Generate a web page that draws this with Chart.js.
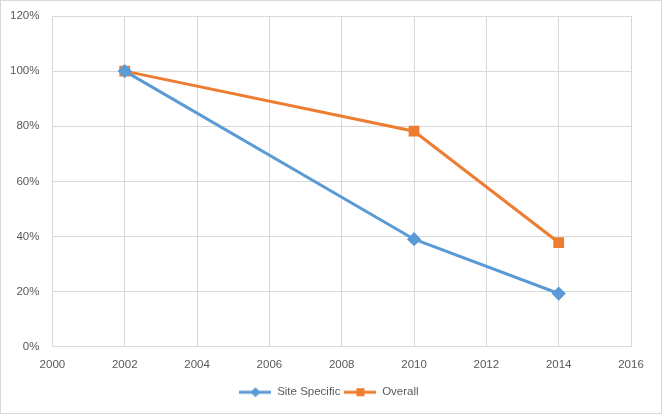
<!DOCTYPE html>
<html>
<head>
<meta charset="utf-8">
<script src="https://cdn.jsdelivr.net/npm/chart.js@4/dist/chart.umd.min.js"></script>
<style>
  html, body { margin: 0; padding: 0; background: #fff; }
  #wrap { width: 662px; height: 414px; box-sizing: border-box; border: 1px solid #d9d9d9; }
</style>
</head>
<body>
<div id="wrap"><canvas id="chart" width="660" height="412"></canvas></div>
<script>
var years = [2002, 2010, 2014];
var siteSpecific = [100, 39, 19.3];
var overall = [100, 78.2, 37.8];
var xTicks = [2000, 2016, 2];   // min, max, step
var yTicks = [0, 120, 20];

var blue = '#5B9BD5';
var orange = '#ED7D31';
var textFont = { family: 'Liberation Sans', size: 11.5 };

function toPoints(vals) {
    return years.map(function (yr, i) { return { x: yr, y: vals[i] }; });
}

// legend swatch: a short line with the marker in the middle
function swatch(color, style) {
    var c = document.createElement('canvas');
    c.width = 32; c.height = 12;
    var g = c.getContext('2d');
    g.strokeStyle = color; g.lineWidth = 3;
    g.beginPath(); g.moveTo(0, 6); g.lineTo(32, 6); g.stroke();
    g.fillStyle = color;
    if (style === 'rect') {
        g.fillRect(12, 2, 8, 8);
    } else {
        g.beginPath(); g.moveTo(16, 1); g.lineTo(21, 6); g.lineTo(16, 11); g.lineTo(11, 6); g.closePath(); g.fill();
    }
    return c;
}

var ctx = document.getElementById('chart').getContext('2d');
var myChart = new Chart(ctx, {
    type: 'line',
    data: {
        datasets: [
            {
                label: 'Site Specific',
                data: toPoints(siteSpecific),
                borderColor: blue,
                backgroundColor: blue,
                borderWidth: 3,
                pointStyle: 'rectRot',
                pointRadius: 5,
                pointHoverRadius: 5,
                legendSwatch: swatch(blue, 'rectRot')
            },
            {
                label: 'Overall',
                data: toPoints(overall),
                borderColor: orange,
                backgroundColor: orange,
                borderWidth: 3,
                pointStyle: 'rect',
                pointRadius: 5.5,
                pointHoverRadius: 5.5,
                legendSwatch: swatch(orange, 'rect')
            }
        ]
    },
    options: {
        responsive: false,
        animation: false,
        layout: { padding: { left: -4, right: 0, top: 15, bottom: 5 } },
        plugins: {
            tooltip: { enabled: false },
            legend: {
                position: 'bottom',
                labels: {
                    usePointStyle: true,
                    pointStyleWidth: 32,
                    color: '#595959',
                    font: textFont,
                    padding: 4,
                    generateLabels: function (chart) {
                        return chart.data.datasets.map(function (ds, i) {
                            return {
                                text: ds.label,
                                pointStyle: ds.legendSwatch,
                                fontColor: '#595959',
                                strokeStyle: ds.borderColor,
                                fillStyle: ds.borderColor,
                                lineWidth: 0,
                                datasetIndex: i
                            };
                        });
                    }
                }
            }
        },
        scales: {
            x: {
                type: 'linear',
                min: xTicks[0],
                max: xTicks[1],
                ticks: {
                    stepSize: xTicks[2],
                    color: '#595959',
                    font: textFont,
                    callback: function (v) { return String(v); },
                    padding: 11
                },
                grid: { color: '#d9d9d9', drawTicks: false },
                border: { color: '#d9d9d9' }
            },
            y: {
                min: yTicks[0],
                max: yTicks[1],
                ticks: {
                    stepSize: yTicks[2],
                    color: '#595959',
                    font: textFont,
                    callback: function (v) { return v + '%'; },
                    padding: 13
                },
                grid: { color: '#d9d9d9', drawTicks: false },
                border: { color: '#d9d9d9' },
                afterFit: function (scale) { scale.paddingTop = 0; }
            },
            // empty spacer on the right so the legend stays centred on the canvas
            spacer: {
                type: 'linear',
                position: 'right',
                grid: { display: false },
                border: { display: false },
                ticks: { display: false },
                afterFit: function (scale) { scale.width = 30; scale.paddingTop = 0; }
            }
        }
    }
});
</script>
</body>
</html>
